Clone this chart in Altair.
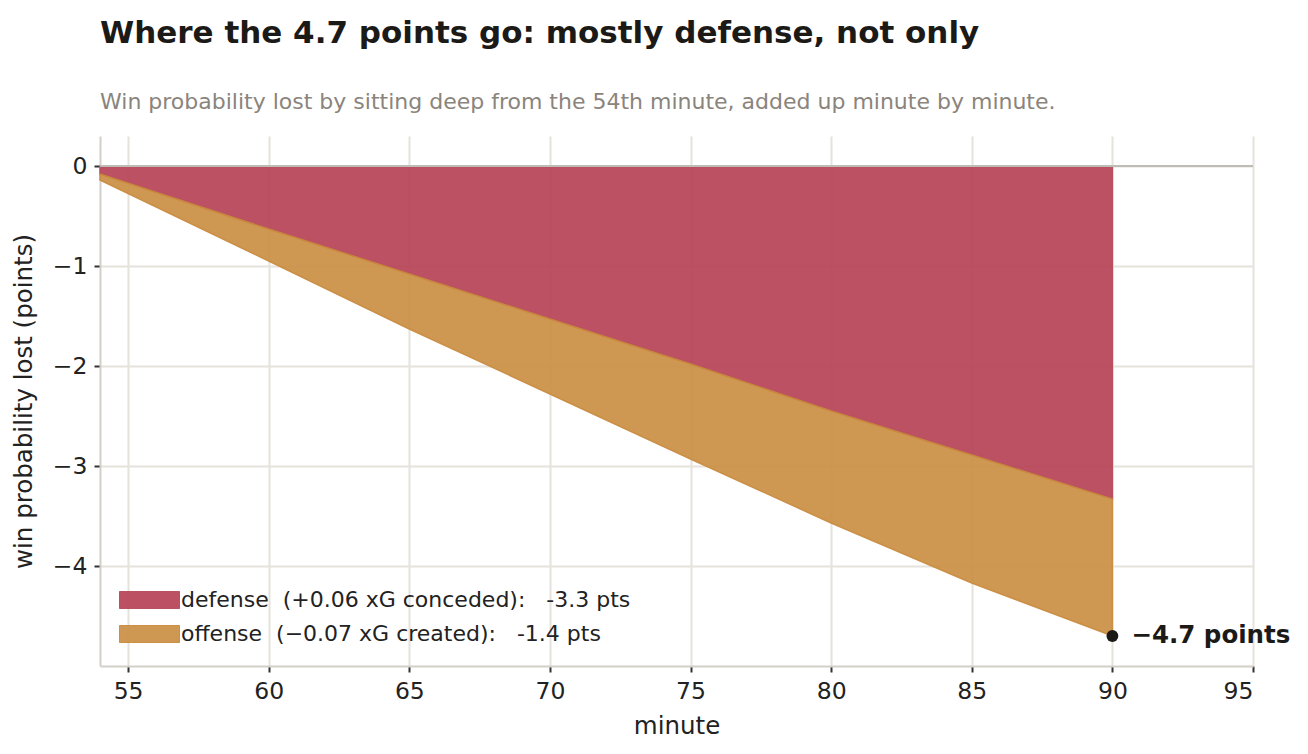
import altair as alt
import pandas as pd

minutes = [54, 60, 65, 70, 75, 80, 85, 90]
defense = [-0.08, -0.63, -1.08, -1.53, -1.98, -2.45, -2.89, -3.33]
total = [-0.14, -0.95, -1.63, -2.28, -2.93, -3.57, -4.17, -4.70]

NB = "\u00a0"
def_label = "defense" + NB + " (+0.06 xG conceded):" + NB * 2 + " -3.3 pts"
off_label = "offense" + NB + " (\u22120.07 xG created):" + NB * 2 + " -1.4 pts"
series = [def_label, off_label]
fills = ["#b8485a", "#cc9249"]
strokes = ["#b8485a", "#c98a3c"]

end_minute = [90]
end_value = [-4.70]
end_text = ["\u22124.7 points"]

rows = []
for m, d, t in zip(minutes, defense, total):
    rows.append({"minute": m, "series": def_label, "top": 0.0, "bottom": d})
    rows.append({"minute": m, "series": off_label, "top": d, "bottom": t})
df = pd.DataFrame(rows)

FONT = "DejaVu Sans"

x_scale = alt.Scale(domain=[54, 95], nice=False, zero=False)
y_scale = alt.Scale(domain=[-5, 0.3], nice=False, zero=False)

x_axis = alt.Axis(values=[55, 60, 65, 70, 75, 80, 85, 90, 95], title="minute", format="d",
                  labelFontSize=23.5, titleFontSize=24.5, titleFontWeight="normal",
                  labelColor="#222222", titleColor="#222222", tickColor="#333333",
                  tickSize=6, tickWidth=2, domainColor="#d3cec8", domainWidth=2,
                  gridColor="#e6e2dc", gridWidth=2, labelPadding=7, titlePadding=12)
y_axis = alt.Axis(values=[0, -1, -2, -3, -4], title="win probability lost (points)", format="d",
                  labelFontSize=23.5, titleFontSize=24.5, titleFontWeight="normal",
                  labelColor="#222222", titleColor="#222222", tickColor="#333333",
                  tickSize=6, tickWidth=2, domainColor="#d3cec8", domainWidth=2,
                  gridColor="#e6e2dc", gridWidth=2, labelPadding=7, titlePadding=16)

area = alt.Chart(df).mark_area(opacity=0.95, strokeWidth=1.5, interpolate="linear").encode(
    x=alt.X("minute:Q", scale=x_scale, axis=x_axis),
    y=alt.Y("bottom:Q", scale=y_scale, axis=y_axis),
    y2="top:Q",
    color=alt.Color("series:N", scale=alt.Scale(domain=series, range=fills),
                    sort=series,
                    legend=alt.Legend(title=None, orient="none", legendX=38.5, legendY=453,
                                      symbolType="M-3.53,-1H3.53V1H-3.53Z", symbolSize=289,
                                      symbolStrokeWidth=1, labelFontSize=22,
                                      labelColor="#222222", labelLimit=1000,
                                      labelOffset=20.5, rowPadding=12, padding=0,
                                      symbolOpacity=0.95)),
    stroke=alt.Stroke("series:N", scale=alt.Scale(domain=series, range=strokes), legend=None),
)

zero_df = pd.DataFrame({"y": [0]})
zero = alt.Chart(zero_df).mark_rule(color="#bdbcb6", strokeWidth=2).encode(
    y=alt.Y("y:Q", scale=y_scale)
)

end_df = pd.DataFrame({"minute": end_minute, "value": end_value, "text": end_text})
dot = alt.Chart(end_df).mark_circle(size=140, color="#1c1a17", opacity=1).encode(
    x=alt.X("minute:Q", scale=x_scale), y=alt.Y("value:Q", scale=y_scale)
)
label = alt.Chart(end_df).mark_text(align="left", baseline="middle", dx=19, dy=0,
                                    fontSize=24.5, fontWeight="bold", color="#1c1a17",
                                    font=FONT).encode(
    x=alt.X("minute:Q", scale=x_scale), y=alt.Y("value:Q", scale=y_scale), text="text:N"
)

chart = alt.layer(area, zero, dot, label).properties(
    width=1153, height=530,
    padding={"left": 100, "top": 136, "right": 55, "bottom": 88},
    autosize=alt.AutoSizeParams(type="none"),
    title=alt.TitleParams(
        "Where the 4.7 points go: mostly defense, not only",
        subtitle="Win probability lost by sitting deep from the 54th minute, added up minute by minute.",
        anchor="start", frame="group", fontSize=31, fontWeight="bold", color="#1c1a17",
        subtitleFontSize=22, subtitleColor="#8a847c", subtitlePadding=42, offset=22,
        font=FONT, subtitleFont=FONT,
    ),
).configure(font=FONT).configure_view(stroke=None).configure_axis(
    labelFont=FONT, titleFont=FONT
).configure_legend(labelFont=FONT)

chart.save("out.html", embed_options={"renderer": "svg", "actions": False})
